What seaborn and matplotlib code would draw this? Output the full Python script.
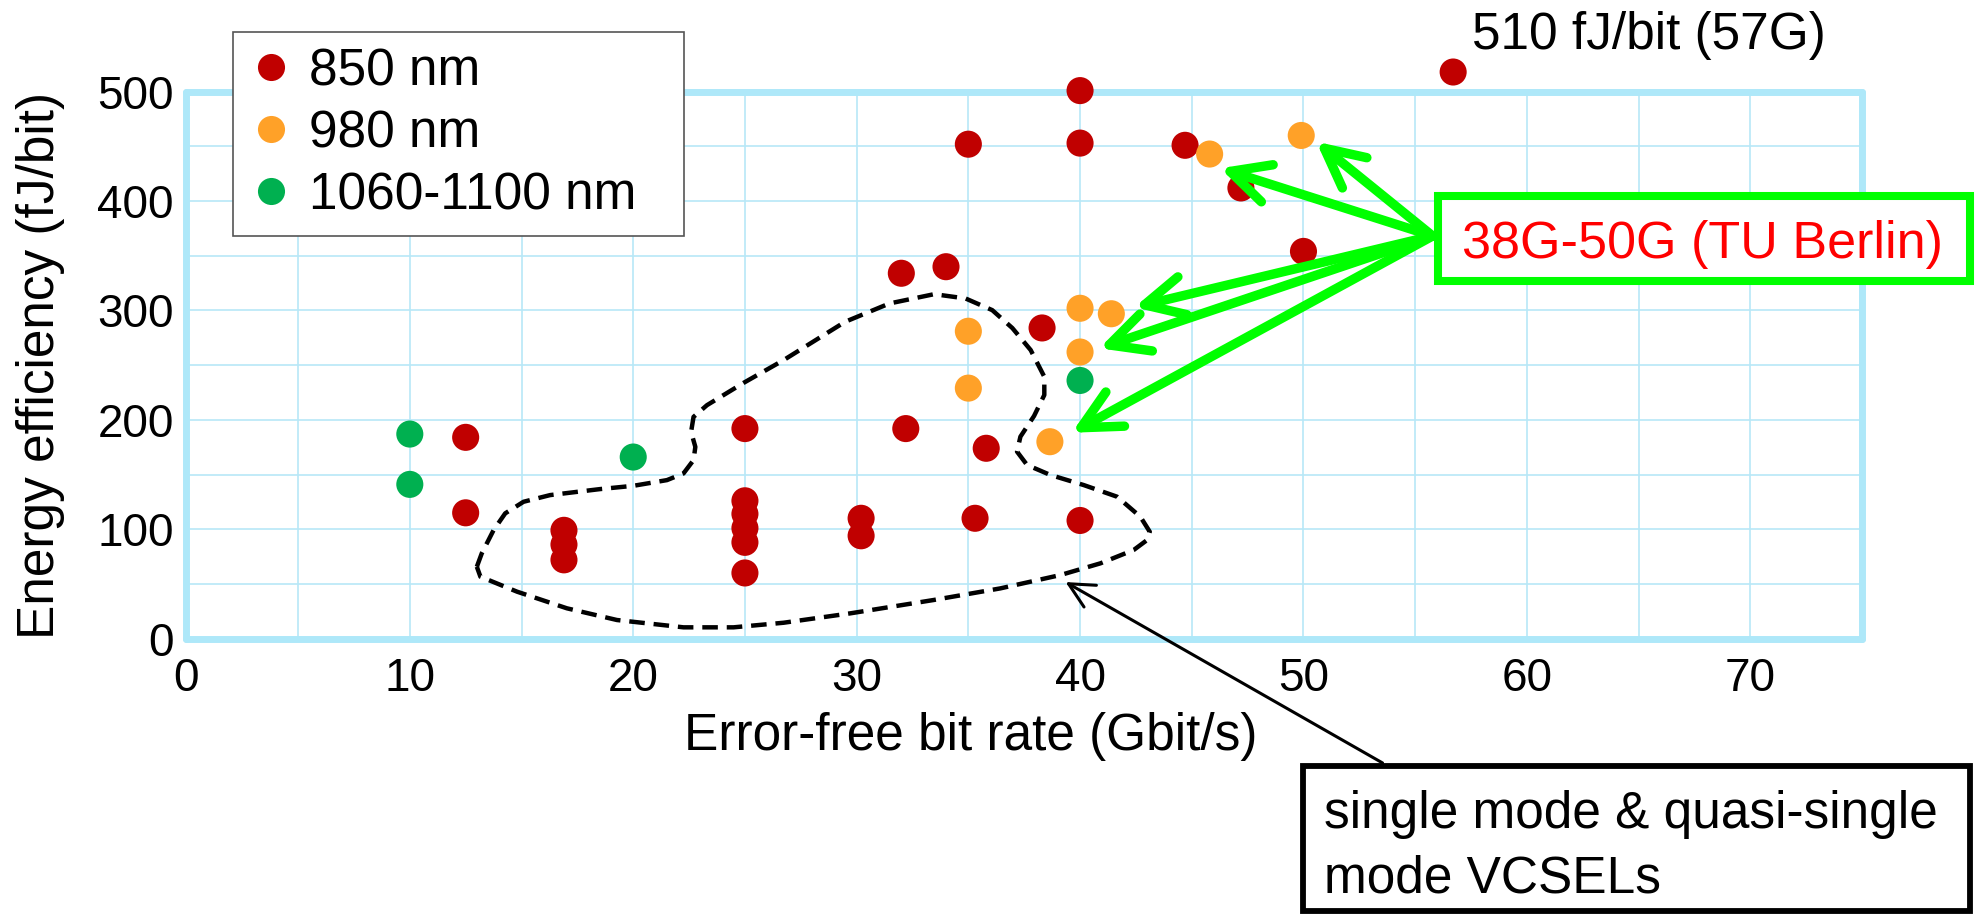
import pandas as pd
import matplotlib.pyplot as plt
import matplotlib.ticker as mticker
from matplotlib.lines import Line2D
from matplotlib.patches import Rectangle
import seaborn as sns

# Data (Gbit/s, fJ/bit)
rate_850 = [12.5, 12.5, 16.9, 16.9, 16.9, 25, 25, 25, 25, 25, 25, 30.2, 30.2,
            32.2, 32.0, 34.0, 35.0, 35.3, 35.8, 38.3, 40, 40, 40, 44.7, 47.2, 50, 56.7]
eff_850 = [184, 115, 99, 86, 72, 192, 126, 114, 101, 88, 60, 110, 94,
           192, 334, 340, 452, 110, 174, 284, 501, 453, 108, 451, 412, 354, 518]
rate_980 = [35.0, 35.0, 38.65, 40, 40, 41.4, 45.8, 49.9]
eff_980 = [281, 229, 180, 302, 262, 297, 443, 460]
rate_1060 = [10, 10, 20, 40]
eff_1060 = [187, 141, 166, 236]

labels = ['850 nm', '980 nm', '1060-1100 nm']
colors = ['#C00000', '#FFA128', '#00B050']

# outline of the single mode / quasi-single mode region
contour_x = [13.00, 13.22, 13.75, 14.27, 15.09, 16.28, 18.52, 20.01, 21.51, 22.25,
             22.70, 22.78, 22.59, 22.70, 23.30, 24.94, 26.73, 29.48, 31.47, 33.47,
             34.87, 36.07, 36.97, 37.79, 38.40, 38.40, 37.94, 37.33, 37.18, 37.63,
             38.67, 40.16, 41.66, 42.70, 43.12, 43.00, 42.40, 40.91, 39.12, 36.43,
             33.45, 29.72, 26.73, 24.49, 22.25, 19.27, 17.03, 14.80, 13.16, 13.00]
contour_y = [65.7, 77.9, 99.2, 114.5, 125.1, 131.2, 136.7, 139.7, 144.9, 151.0,
             163.2, 175.3, 189.0, 202.7, 213.4, 233.8, 254.6, 289.6, 306.4, 314.9,
             311.0, 300.3, 283.9, 263.8, 239.4, 222.7, 203.5, 184.6, 170.9, 158.7,
             149.6, 140.4, 129.7, 111.4, 97.7, 90.1, 81.0, 68.8, 58.1, 45.9,
             35.3, 23.1, 14.5, 10.3, 10.3, 17.0, 27.7, 42.9, 56.6, 65.7]

# TU Berlin arrows: common start and tips
tu_start = (55.78, 368.1)
tu_tips_x = [50.57, 46.27, 42.43, 40.86, 39.63]
tu_tips_y = [454.3, 430.0, 302.9, 265.4, 188.2]

df = pd.DataFrame({
    'rate': rate_850 + rate_980 + rate_1060,
    'eff': eff_850 + eff_980 + eff_1060,
    'wl': [labels[0]] * len(rate_850) + [labels[1]] * len(rate_980) + [labels[2]] * len(rate_1060),
})

sns.set_style('white')
plt.rcParams['font.family'] = ['Liberation Sans', 'DejaVu Sans']
plt.rcParams['text.color'] = 'black'
plt.rcParams['axes.labelcolor'] = 'black'
plt.rcParams['xtick.color'] = 'black'
plt.rcParams['ytick.color'] = 'black'

W, H = 1975, 916
fig = plt.figure(figsize=(W / 100, H / 100), dpi=100)


def fx(px):
    return px / W


def fy(py):
    return 1 - py / H


ax = fig.add_axes([fx(186.4), fy(638.6), 1675.6 / W, 546.9 / H])

sns.scatterplot(data=df, x='rate', y='eff', hue='wl', hue_order=labels,
                palette=colors, s=380, linewidth=0, legend=False,
                clip_on=False, zorder=3, ax=ax)

ax.set_xlim(0, 75)
ax.set_ylim(0, 500)
ax.xaxis.set_major_locator(mticker.FixedLocator(range(0, 71, 10)))
ax.yaxis.set_major_locator(mticker.MultipleLocator(100))
ax.xaxis.set_minor_locator(mticker.MultipleLocator(5))
ax.yaxis.set_minor_locator(mticker.MultipleLocator(50))
ax.grid(which='both', color='#B8E8F7', linewidth=1.2)
ax.set_axisbelow(True)
ax.tick_params(which='both', length=0, labelsize=33)
ax.tick_params(axis='x', pad=13)
ax.tick_params(axis='y', pad=9)
for sp in ax.spines.values():
    sp.set_color('#AEE8F9')
    sp.set_linewidth(5)
    sp.set_capstyle('round')

ax.set_xlabel('Error-free bit rate (Gbit/s)', fontsize=37)
ax.xaxis.set_label_coords(0.468, -0.135)
ax.set_ylabel('Energy efficiency (fJ/bit)', fontsize=37)
ax.yaxis.set_label_coords(-0.0725, 0.5)

# dashed region outline
ax.plot(contour_x, contour_y, color='black', lw=3.2, ls=(0, (3.5, 2)), zorder=2)

# legend
handles = [Line2D([], [], marker='o', ls='', markersize=19.5, color=c, markeredgewidth=0)
           for c in colors]
leg = ax.legend(handles, labels, loc='upper left', mode='expand',
                bbox_to_anchor=(fx(233), fy(233), 451 / W, 201 / H),
                bbox_transform=fig.transFigure, fontsize=37, frameon=True,
                fancybox=False, framealpha=1, edgecolor='#555555',
                borderpad=0.3, labelspacing=0.25, handlelength=0.88,
                handletextpad=0.3, borderaxespad=0)
leg.get_frame().set_linewidth(1.2)
leg.set_zorder(6)

# 510 fJ/bit label
ax.text(57.55, 539, '510 fJ/bit (57G)', fontsize=37, ha='left', va='baseline',
        clip_on=False)

# green arrows to the TU Berlin points
for tx, ty in zip(tu_tips_x, tu_tips_y):
    ax.annotate('', xy=(tx, ty), xytext=tu_start, annotation_clip=False,
                arrowprops=dict(arrowstyle='->,head_length=0.5,head_width=0.25',
                                color='#00FF00', lw=6.8, mutation_scale=56,
                                shrinkA=0, shrinkB=0, capstyle='round'))

# black arrow to the outlined region
ax.annotate('', xy=(39.35, 51.7), xytext=(53.54, -113.7), annotation_clip=False,
            arrowprops=dict(arrowstyle='->,head_length=0.4,head_width=0.2',
                            color='black', lw=2.2, mutation_scale=45,
                            shrinkA=0, shrinkB=0))

# TU Berlin box
fig.add_artist(Rectangle((fx(1438), fy(281)), (1970 - 1438) / W, (281 - 196) / H,
                         transform=fig.transFigure, facecolor='white',
                         edgecolor='#00FF00', linewidth=5.8, zorder=4))
fig.text(fx(1461.6), fy(258), '38G-50G (TU Berlin)', color='#FF0000',
         fontsize=37.5, ha='left', va='baseline', zorder=5)

# single mode box
fig.add_artist(Rectangle((fx(1302.5), fy(910.5)), (1969.5 - 1302.5) / W, (910.5 - 766) / H,
                         transform=fig.transFigure, facecolor='white',
                         edgecolor='black', linewidth=4.2, zorder=4))
fig.text(fx(1324), fy(790), 'single mode & quasi-single\nmode VCSELs',
         fontsize=37, ha='left', va='top', linespacing=1.4, zorder=5)

fig.savefig('out.png', dpi=100)
